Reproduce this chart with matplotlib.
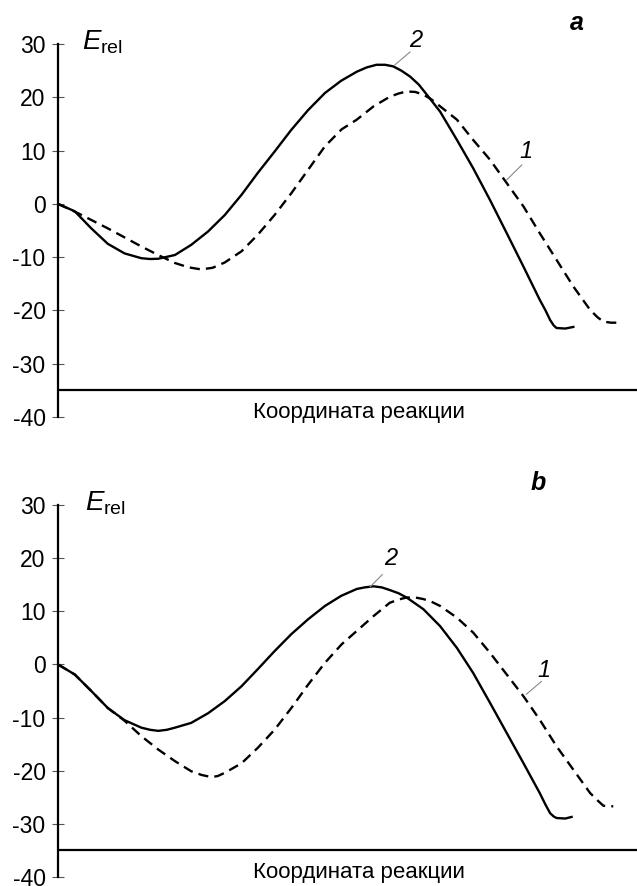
import matplotlib
matplotlib.use('Agg')
import matplotlib.pyplot as plt

plt.rcParams['font.family'] = ['Liberation Sans', 'DejaVu Sans']
plt.rcParams['mathtext.fontset'] = 'custom'
plt.rcParams['mathtext.rm'] = 'Liberation Sans'
plt.rcParams['mathtext.it'] = 'Liberation Sans:italic'

# panel a, curve 2 (solid)
xa2 = [0, 2.9, 5.75, 8.6, 11.5, 14.4, 15.9, 17.3, 20.2, 23.0, 25.9, 28.8, 31.7, 34.5, 37.4,
       40.3, 43.2, 46.1, 48.9, 51.6, 53.3, 55.0, 56.5, 57.9, 59.3, 60.8, 62.3, 63.7, 66.0,
       68.9, 71.7, 74.6, 77.5, 80.4, 83.2, 84.2, 85.0, 85.6, 86.1, 87.6, 89.0]
ya2 = [0, -1.4, -4.6, -7.5, -9.3, -10.2, -10.35, -10.3, -9.6, -7.7, -5.2, -2.1, 1.7, 5.8, 9.8,
       13.9, 17.6, 20.8, 23.1, 24.8, 25.6, 26.1, 26.1, 25.8, 25.0, 23.9, 22.4, 20.5, 17.3,
       12.0, 6.7, 0.75, -5.5, -11.8, -18.0, -20.0, -21.8, -22.8, -23.3, -23.4, -23.1]
# panel a, curve 1 (dashed)
xa1 = [0, 3.45, 8.6, 14.4, 17.3, 20.2, 22.5, 24.7, 26.7, 28.8, 31.7, 34.5, 37.4, 40.3, 43.2,
       46.1, 49.0, 51.6, 54.5, 57.3, 58.8, 60.2, 61.7, 63.1, 64.5, 66.0, 68.9, 71.7, 74.6,
       77.5, 80.4, 83.2, 86.1, 89.0, 91.9, 93.2, 94.2, 95.5, 97.1]
ya1 = [0, -1.75, -4.6, -8.0, -9.6, -11.1, -11.9, -12.3, -12.0, -11.0, -8.9, -5.8, -2.1, 2.0, 6.4,
       10.8, 14.0, 15.8, 18.3, 20.1, 20.7, 21.1, 21.0, 20.5, 19.6, 18.3, 15.8, 12.0, 8.3,
       3.9, -0.5, -5.5, -10.5, -15.5, -19.9, -21.3, -22.1, -22.3, -22.3]

# panel b, curve 2 (solid)
xb2 = [0, 2.9, 5.75, 8.6, 11.5, 14.4, 15.9, 17.3, 18.8, 20.2, 23.0, 25.9, 28.8, 31.7, 34.5,
       37.4, 40.3, 43.2, 46.1, 48.9, 51.6, 53.0, 54.5, 55.9, 57.3, 58.8, 60.2, 63.1, 66.0,
       68.9, 71.7, 74.6, 77.5, 80.4, 83.2, 84.2, 85.0, 85.6, 86.1, 87.6, 88.7]
yb2 = [0, -1.9, -5.0, -8.2, -10.5, -11.9, -12.3, -12.5, -12.3, -11.9, -11.0, -9.2, -6.9, -4.1, -0.9,
       2.5, 5.7, 8.5, 11.0, 12.9, 14.2, 14.5, 14.7, 14.5, 14.0, 13.4, 12.6, 10.4, 7.2,
       3.1, -1.6, -7.2, -12.9, -18.6, -24.2, -26.4, -28.0, -28.6, -28.9, -29.0, -28.7]
# panel b, curve 1 (dashed)
xb1 = [0, 2.9, 5.75, 8.6, 11.5, 14.4, 17.3, 20.2, 23.0, 24.8, 26.5, 27.6, 28.8, 31.7, 34.5,
       37.4, 40.3, 43.2, 46.1, 49.0, 51.6, 54.5, 57.3, 58.8, 60.2, 61.7, 63.1, 64.5, 66.0,
       68.9, 71.7, 74.6, 77.5, 80.4, 83.2, 86.1, 89.0, 91.9, 93.2, 94.2, 95.9]
yb1 = [0, -1.9, -5.0, -8.2, -10.6, -13.5, -16.0, -18.2, -20.1, -20.8, -21.2, -21.0, -20.4, -18.6, -15.7,
       -12.3, -8.2, -3.8, 0.3, 3.8, 6.3, 9.1, 11.6, 12.2, 12.6, 12.6, 12.3, 11.8, 11.0,
       8.8, 6.0, 2.2, -1.9, -6.0, -10.4, -15.4, -19.8, -24.2, -25.6, -26.6, -26.7]

yticks = [30, 20, 10, 0, -10, -20, -30, -40]
xlabel = 'Координата реакции'

panels = [
    dict(x1=xa1, y1=ya1, x2=xa2, y2=ya2, tag='a', tag_xy=(89.6, 34.0),
         lab2=(61.7, 30.6), lead2=((58.2, 26.1), (60.8, 28.5)),
         lab1=(80.9, 9.8), lead1=((77.5, 4.5), (80.1, 7.3)), e_x=4.2),
    dict(x1=xb1, y1=yb1, x2=xb2, y2=yb2, tag='b', tag_xy=(82.9, 34.1),
         lab2=(57.5, 19.9), lead2=((53.9, 14.6), (56.0, 16.9)),
         lab1=(84.0, -1.1), lead1=((80.9, -5.6), (83.5, -3.2)), e_x=4.6),
]

fig = plt.figure(figsize=(6.37, 8.86), dpi=100)
rects = [[58 / 637, 1 - 417 / 886, 579 / 637, 373 / 886],
         [58 / 637, 1 - 877 / 886, 579 / 637, 372 / 886]]

for rect, p in zip(rects, panels):
    ax = fig.add_axes(rect)
    ax.set_xlim(0, 100)
    ax.set_ylim(-40, 30)
    for s in ['top', 'right', 'bottom']:
        ax.spines[s].set_visible(False)
    ax.spines['left'].set_linewidth(1.6)
    ax.axhline(-35, color='black', lw=1.6)
    ax.set_xticks([])
    ax.set_yticks(yticks)
    ax.set_yticklabels([str(t) for t in yticks])
    ax.tick_params(axis='y', direction='inout', length=8, width=0.8,
                   color='#555555', pad=5.0, labelsize=16.5)

    ax.plot(p['x2'], p['y2'], color='black', lw=1.7, solid_joinstyle='round')
    ax.plot(p['x1'], p['y1'], color='black', lw=1.7, dashes=(4.3, 2.6))

    (a0, a1), (b0, b1) = p['lead2']
    ax.plot([a0, b0], [a1, b1], color='#888888', lw=0.8)
    ax.text(*p['lab2'], '2', fontsize=17, style='italic', ha='center', va='center')
    (a0, a1), (b0, b1) = p['lead1']
    ax.plot([a0, b0], [a1, b1], color='#888888', lw=0.8)
    ax.text(*p['lab1'], '1', fontsize=17, style='italic', ha='center', va='center')

    ax.text(*p['tag_xy'], p['tag'], fontsize=18, style='italic', weight='bold',
            ha='center', va='center')
    ax.text(p['e_x'], 29.0, r'$E_{\rm rel}$', fontsize=20, ha='left', va='baseline')
    ax.text(52.0, -39.1, xlabel, fontsize=16, ha='center', va='center', clip_on=False)

fig.savefig('out.png', dpi=100)
print('Saved: out.png')
